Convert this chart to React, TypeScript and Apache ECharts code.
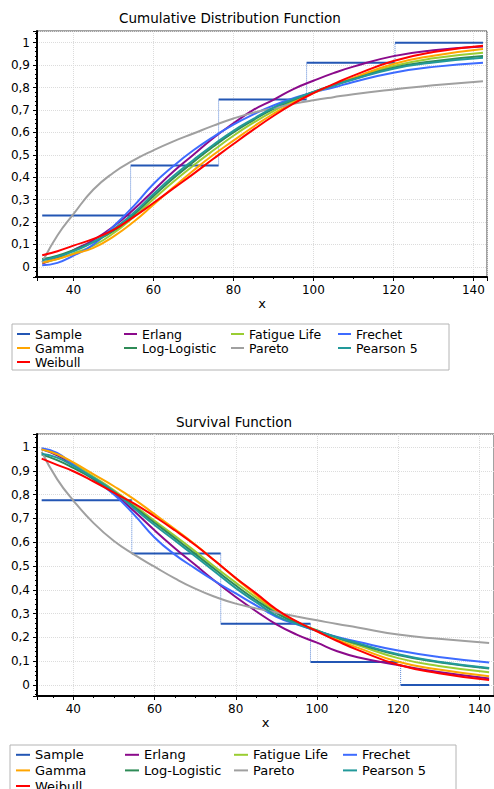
import React, { useEffect, useRef } from "react";
import * as echarts from "echarts";

// ---------- data ----------
const xs = [32.2, 36, 40, 45, 50, 55, 60, 65, 70, 75, 80, 85, 90, 95, 100, 105, 110, 120, 130, 142.4];

const seriesNames = ["Sample", "Erlang", "Fatigue Life", "Frechet", "Gamma", "Log-Logistic", "Pareto", "Pearson 5", "Weibull"];
const seriesColors = ["#2356b4", "#8b0a8b", "#9acd32", "#3d6bff", "#ffa500", "#2e8b57", "#a0a0a0", "#22999a", "#ff0000"];

// Cumulative distribution function
const cdfErlang = [0.015, 0.04, 0.075, 0.12, 0.18, 0.255, 0.34, 0.425, 0.5, 0.575, 0.64, 0.7, 0.745, 0.793, 0.83, 0.864, 0.893, 0.94, 0.966, 0.983];
const cdfFatigue = [0.02, 0.035, 0.06, 0.095, 0.15, 0.222, 0.302, 0.38, 0.452, 0.52, 0.585, 0.643, 0.695, 0.74, 0.778, 0.812, 0.842, 0.896, 0.93, 0.955];
const cdfFrechet = [0.007, 0.018, 0.05, 0.1, 0.18, 0.27, 0.37, 0.45, 0.52, 0.58, 0.635, 0.68, 0.72, 0.752, 0.778, 0.8, 0.825, 0.866, 0.892, 0.91];
const cdfGamma = [0.02, 0.035, 0.057, 0.085, 0.135, 0.2, 0.277, 0.355, 0.43, 0.5, 0.563, 0.625, 0.683, 0.733, 0.775, 0.81, 0.843, 0.905, 0.942, 0.972];
const cdfLogLogistic = [0.035, 0.05, 0.075, 0.112, 0.16, 0.232, 0.315, 0.395, 0.468, 0.537, 0.6, 0.655, 0.705, 0.745, 0.78, 0.81, 0.838, 0.888, 0.917, 0.94];
const cdfPareto = [0.02, 0.14, 0.235, 0.345, 0.42, 0.475, 0.52, 0.56, 0.595, 0.63, 0.662, 0.688, 0.708, 0.727, 0.743, 0.757, 0.77, 0.791, 0.81, 0.828];
const cdfPearson5 = [0.03, 0.045, 0.07, 0.11, 0.168, 0.24, 0.325, 0.405, 0.477, 0.545, 0.607, 0.66, 0.71, 0.748, 0.78, 0.808, 0.836, 0.884, 0.912, 0.933];
const cdfWeibull = [0.052, 0.07, 0.095, 0.125, 0.165, 0.222, 0.285, 0.35, 0.415, 0.482, 0.548, 0.612, 0.673, 0.728, 0.775, 0.815, 0.853, 0.918, 0.958, 0.986];

// Survival function
const sfErlang = [0.99, 0.965, 0.925, 0.87, 0.805, 0.73, 0.65, 0.575, 0.505, 0.435, 0.37, 0.31, 0.255, 0.212, 0.178, 0.142, 0.117, 0.084, 0.055, 0.028];
const sfFatigue = [0.99, 0.97, 0.93, 0.875, 0.818, 0.755, 0.69, 0.627, 0.562, 0.495, 0.43, 0.368, 0.31, 0.265, 0.23, 0.197, 0.168, 0.113, 0.08, 0.054];
const sfFrechet = [0.995, 0.975, 0.925, 0.865, 0.8, 0.715, 0.62, 0.548, 0.49, 0.435, 0.385, 0.335, 0.287, 0.255, 0.228, 0.202, 0.182, 0.145, 0.118, 0.095];
const sfGamma = [0.99, 0.97, 0.935, 0.885, 0.835, 0.78, 0.718, 0.655, 0.59, 0.52, 0.448, 0.378, 0.315, 0.265, 0.226, 0.19, 0.157, 0.098, 0.065, 0.037];
const sfLogLogistic = [0.968, 0.945, 0.912, 0.865, 0.81, 0.748, 0.682, 0.617, 0.551, 0.484, 0.418, 0.357, 0.302, 0.26, 0.228, 0.199, 0.173, 0.126, 0.096, 0.07];
const sfPareto = [0.98, 0.865, 0.775, 0.68, 0.605, 0.548, 0.497, 0.448, 0.405, 0.37, 0.342, 0.322, 0.305, 0.288, 0.272, 0.256, 0.242, 0.212, 0.194, 0.177];
const sfPearson5 = [0.972, 0.955, 0.92, 0.87, 0.813, 0.742, 0.672, 0.607, 0.541, 0.474, 0.407, 0.348, 0.292, 0.257, 0.228, 0.2, 0.176, 0.129, 0.098, 0.072];
const sfWeibull = [0.951, 0.925, 0.898, 0.855, 0.808, 0.762, 0.708, 0.65, 0.588, 0.52, 0.45, 0.385, 0.318, 0.267, 0.226, 0.185, 0.148, 0.085, 0.05, 0.021];

// Empirical (sample) step functions
const cdfStepX = [32.2, 54.3, 76.3, 98.3, 120.4, 142.4];
const cdfStepY = [0.229, 0.452, 0.747, 0.91, 1.0];
const sfStepX = [32.2, 54.4, 76.3, 98.4, 120.6, 142.4];
const sfStepY = [0.776, 0.553, 0.258, 0.097, 0.0];

const cdfCurves = [cdfErlang, cdfFatigue, cdfFrechet, cdfGamma, cdfLogLogistic, cdfPareto, cdfPearson5, cdfWeibull];
const sfCurves = [sfErlang, sfFatigue, sfFrechet, sfGamma, sfLogLogistic, sfPareto, sfPearson5, sfWeibull];

const FONT = "DejaVu Sans";

function stepHorizontal(sx: number[], sy: number[]) {
  const out: any[] = [];
  for (let i = 0; i < sy.length; i++) {
    out.push([sx[i], sy[i]], [sx[i + 1], sy[i]], [sx[i + 1], "-"]);
  }
  return out;
}
function stepVertical(sx: number[], sy: number[]) {
  const out: any[] = [];
  for (let i = 1; i < sy.length; i++) {
    out.push([sx[i], sy[i - 1]], [sx[i], sy[i]], [sx[i], "-"]);
  }
  return out;
}

function buildSeries(idx: number, curves: number[][], sx: number[], sy: number[]) {
  const s: any[] = [];
  s.push({
    name: "Sample",
    type: "line",
    xAxisIndex: idx,
    yAxisIndex: idx,
    data: stepHorizontal(sx, sy),
    symbol: "none",
    connectNulls: false,
    lineStyle: { color: seriesColors[0], width: 2 },
    itemStyle: { color: seriesColors[0] },
    z: 2,
  });
  s.push({
    name: "Sample",
    type: "line",
    xAxisIndex: idx,
    yAxisIndex: idx,
    data: stepVertical(sx, sy),
    symbol: "none",
    connectNulls: false,
    lineStyle: { color: "#5a86d6", width: 1, type: "dotted" },
    itemStyle: { color: seriesColors[0] },
    z: 2,
  });
  curves.forEach((arr, k) => {
    s.push({
      name: seriesNames[k + 1],
      type: "line",
      xAxisIndex: idx,
      yAxisIndex: idx,
      data: xs.map((x, i) => [x, arr[i]]),
      symbol: "none",
      smooth: 0.5,
      lineStyle: { color: seriesColors[k + 1], width: 2 },
      itemStyle: { color: seriesColors[k + 1] },
      z: 3 + k,
    });
  });
  return s;
}

function xAxisCfg(idx: number, min: number, max: number, nameGap: number, margin: number) {
  return {
    type: "value",
    gridIndex: idx,
    min,
    max,
    splitNumber: 5,
    minInterval: 20,
    maxInterval: 20,
    name: "x",
    nameLocation: "middle",
    nameGap,
    nameTextStyle: { color: "#000", fontFamily: FONT, fontSize: 13 },
    axisLine: { show: true, onZero: false, lineStyle: { color: "#000", width: 2 } },
    axisTick: { show: true, length: 4, lineStyle: { color: "#000", width: 1 } },
    minorTick: { show: true, splitNumber: 4, length: 2, lineStyle: { color: "#000", width: 1 } },
    splitLine: { show: true, lineStyle: { color: "#dcdcdc", type: "dotted", width: 1 } },
    axisLabel: {
      showMinLabel: false,
      showMaxLabel: false,
      color: "#000",
      fontFamily: FONT,
      fontSize: 12,
      margin,
    },
  };
}

function yAxisCfg(idx: number, min: number, max: number) {
  return {
    type: "value",
    gridIndex: idx,
    min,
    max,
    splitNumber: 11,
    minInterval: 0.1,
    maxInterval: 0.1,
    axisLine: { show: true, onZero: false, lineStyle: { color: "#000", width: 2 } },
    axisTick: { show: true, length: 4, lineStyle: { color: "#000", width: 1 } },
    minorTick: { show: true, splitNumber: 5, length: 2, lineStyle: { color: "#000", width: 1 } },
    splitLine: { show: true, lineStyle: { color: "#dcdcdc", type: "dotted", width: 1 } },
    axisLabel: {
      showMinLabel: false,
      showMaxLabel: false,
      color: "#000",
      fontFamily: FONT,
      fontSize: 12,
      margin: 7,
      formatter: (v: number) => {
        const r = Math.round(v * 10) / 10;
        return String(r).replace(".", ",");
      },
    },
  };
}

function legendCfg(left: number, top: number, width: number, itemWidth: number, textWidth: number, fontSize: number, lineHeight: number, padding: number[]) {
  return {
    show: true,
    selectedMode: false,
    orient: "horizontal",
    left,
    top,
    width,
    icon: "rect",
    itemWidth,
    itemHeight: 2,
    itemGap: 0,
    padding,
    borderColor: "#b4b4b4",
    borderWidth: 1,
    backgroundColor: "#fff",
    data: seriesNames,
    textStyle: {
      color: "#000",
      fontFamily: FONT,
      fontSize,
      width: textWidth,
      lineHeight,
      overflow: "none",
    },
  };
}

export default function App() {
  const ref = useRef<HTMLDivElement>(null);
  useEffect(() => {
    if (!ref.current) return;
    const chart = echarts.init(ref.current, null, { renderer: "svg" });
    chart.setOption({
      animation: false,
      backgroundColor: "#fff",
      title: [
        {
          text: "Cumulative Distribution Function",
          left: 230,
          top: 11,
          textAlign: "center",
          padding: 0,
          textStyle: { color: "#000", fontFamily: FONT, fontSize: 13.5, fontWeight: "normal" },
        },
        {
          text: "Survival Function",
          left: 234,
          top: 415,
          textAlign: "center",
          padding: 0,
          textStyle: { color: "#000", fontFamily: FONT, fontSize: 13.5, fontWeight: "normal" },
        },
      ],
      grid: [
        { left: 37, top: 31, width: 450, height: 246, show: true, borderColor: "#444", borderWidth: 1, backgroundColor: "#fff" },
        { left: 37, top: 434, width: 457, height: 262, show: true, borderColor: "#444", borderWidth: 1, backgroundColor: "#fff" },
      ],
      xAxis: [xAxisCfg(0, 30.9, 143.4, 18, 7), xAxisCfg(1, 31.05, 143.6, 19, 7)],
      yAxis: [yAxisCfg(0, -0.045, 1.052), yAxisCfg(1, -0.046, 1.0545)],
      legend: [
        legendCfg(12, 324, 440, 13, 89, 12.5, 14, [3, 4, 1, 5]),
        legendCfg(10, 745, 450, 14, 90, 13, 15.6, [2, 4, 1, 6]),
      ],
      series: [...buildSeries(0, cdfCurves, cdfStepX, cdfStepY), ...buildSeries(1, sfCurves, sfStepX, sfStepY)],
    });
    return () => chart.dispose();
  }, []);
  return <div ref={ref} style={{ position: "fixed", left: 0, top: 0, width: 494, height: 789 }} />;
}
